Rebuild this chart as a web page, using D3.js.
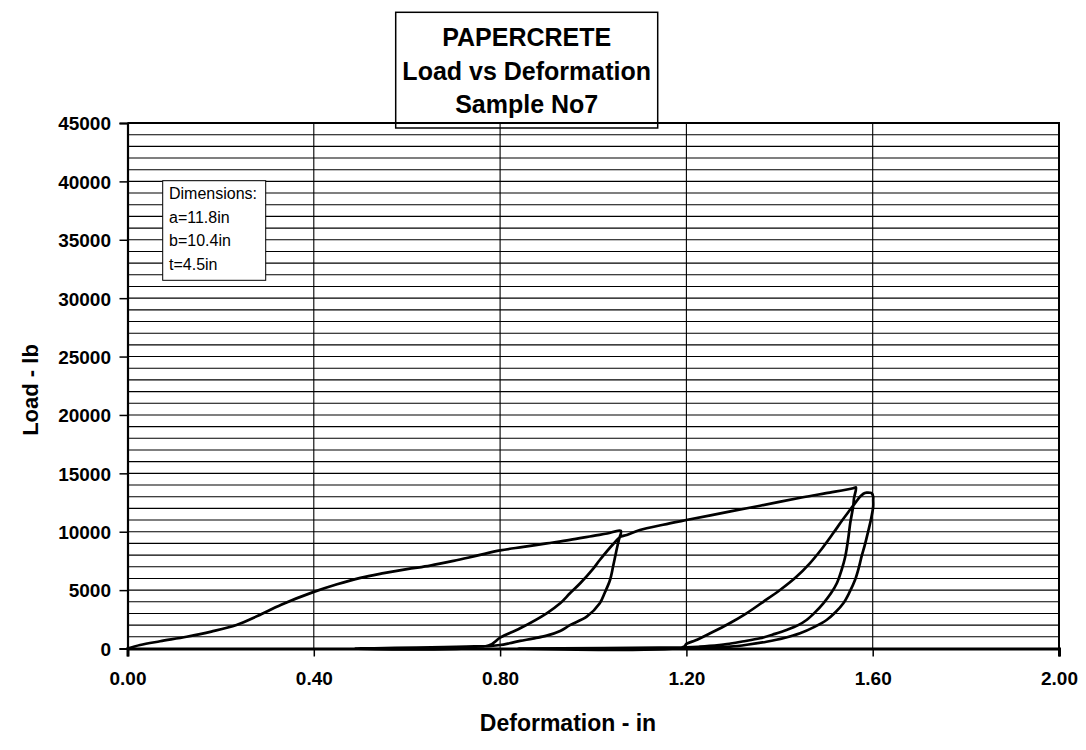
<!DOCTYPE html>
<html><head><meta charset="utf-8">
<script src="https://cdn.jsdelivr.net/npm/d3@7"></script>
<style>body{margin:0;background:#fff}svg{display:block}text{font-family:"Liberation Sans",Arial,sans-serif}</style>
</head><body>
<svg id="c" width="1086" height="750"></svg>
<script>
// ---- data: [deformation (in), load (lb)] ----
const load1 = [[0,0],[0.027,300],[0.07,620],[0.127,1010],[0.18,1450],[0.234,2012],[0.28,2800],[0.33,3750],[0.40,4850],[0.45,5500],[0.50,6050],[0.55,6450],[0.60,6800],[0.65,7100],[0.70,7500],[0.75,7950],[0.80,8400],[0.85,8700],[0.90,9000],[0.95,9300],[1.00,9650],[1.03,9850],[1.059,10080]];
const unload1 = [[1.059,10080],[1.055,9300],[1.050,8435],[1.043,7100],[1.036,5866],[1.025,4800],[1.014,3870],[0.986,2723],[0.95,2000],[0.929,1500],[0.90,1100],[0.87,850],[0.843,650],[0.82,450],[0.80,300],[0.78,220],[0.49,0],[0.775,250]];
const reload1 = [[0.775,250],[0.80,925],[0.843,1730],[0.90,3014],[0.929,3870],[0.95,4727],[0.972,5583],[1.0,6843],[1.014,7578],[1.043,8948],[1.059,9575],[1.072,9719],[1.10,10147],[1.15,10600],[1.20,11003],[1.30,11780],[1.358,12228],[1.45,12950],[1.50,13300],[1.558,13718],[1.564,13800]];
const unload2 = [[1.564,13800],[1.560,12900],[1.558,12142],[1.552,10800],[1.548,9575],[1.541,7861],[1.533,6700],[1.523,5583],[1.510,4700],[1.494,3870],[1.475,3050],[1.458,2440],[1.44,2000],[1.415,1584],[1.39,1250],[1.358,873],[1.32,600],[1.287,385],[1.25,220],[1.229,154],[1.20,100],[0.84,0],[1.195,150]];
const reload2 = [[1.195,150],[1.20,400],[1.22,700],[1.251,1302],[1.29,2100],[1.329,3014],[1.365,4000],[1.401,5009],[1.435,6100],[1.465,7295],[1.49,8500],[1.515,9863],[1.535,11000],[1.551,11860],[1.565,12600],[1.573,13000],[1.580,13250],[1.587,13342],[1.594,13340],[1.598,13290],[1.601,13000],[1.601,12716]];
const unload3 = [[1.601,12716],[1.601,12142],[1.596,11000],[1.591,10147],[1.584,9000],[1.576,7861],[1.570,6900],[1.562,5866],[1.550,4800],[1.537,3870],[1.52,3100],[1.501,2440],[1.475,1850],[1.444,1302],[1.41,900],[1.372,582],[1.33,320],[1.294,154],[1.26,80],[1.23,40]];

const xTicks = [0,0.4,0.8,1.2,1.6,2.0];
const yTicks = [0,5000,10000,15000,20000,25000,30000,35000,40000,45000];
const yGrid = d3.range(1000,45001,1000);
const titleLines = ["PAPERCRETE","Load vs Deformation","Sample No7"];
const noteLines = ["Dimensions:","a=11.8in","b=10.4in","t=4.5in"];
const xTitle = "Deformation - in", yTitle = "Load - lb";

// ---- drawing ----
const svg = d3.select("#c");
const L = 127.5, R = 1059, T = 123, B = 648.5;
const x = d3.scaleLinear().domain([0,2]).range([L,R]);
const y = d3.scaleLinear().domain([0,45000]).range([B,T]);

// horizontal grid
svg.append("g").selectAll("line").data(yGrid).join("line")
  .attr("x1",L).attr("x2",R).attr("y1",d=>y(d)).attr("y2",d=>y(d))
  .attr("stroke","#000").attr("stroke-width",1.1);
// vertical grid
svg.append("g").selectAll("line").data(xTicks.slice(1,-1)).join("line")
  .attr("y1",T).attr("y2",B).attr("x1",d=>x(d)).attr("x2",d=>x(d))
  .attr("stroke","#000").attr("stroke-width",1.1);
// border top/right
svg.append("path").attr("d",`M${L},${T}H${R}V${B}`).attr("fill","none").attr("stroke","#000").attr("stroke-width",2);

// axes
const yAxis = d3.axisLeft(y).tickValues(yTicks).tickSize(8).tickFormat(d3.format("d"));
const gy = svg.append("g").attr("transform",`translate(${L},0)`).call(yAxis);
gy.select(".domain").attr("stroke","#000").attr("stroke-width",2.2);
gy.selectAll(".tick line").attr("stroke","#000").attr("stroke-width",1.5);
gy.selectAll(".tick text").attr("x",-16.5).attr("dy","0.36em").attr("font-size",19).attr("font-weight","bold").attr("fill","#000").style("font-family",'"Liberation Sans",Arial,sans-serif');

const xAxis = d3.axisBottom(x).tickValues(xTicks).tickSize(8).tickFormat(d3.format(".2f"));
const gx = svg.append("g").attr("transform",`translate(0,${B})`).call(xAxis);
gx.select(".domain").attr("stroke","#000").attr("stroke-width",3);
gx.selectAll(".tick line").attr("stroke","#000").attr("stroke-width",1.5);
gx.selectAll(".tick text").attr("y",30).attr("dy","0.36em").attr("font-size",19).attr("font-weight","bold").attr("fill","#000").style("font-family",'"Liberation Sans",Arial,sans-serif');

// curve
const pts = [].concat(load1, unload1.slice(1), reload1.slice(1), unload2.slice(1), reload2.slice(1), unload3.slice(1));
svg.append("path").datum(pts)
  .attr("d", d3.line().x(d=>x(d[0])).y(d=>y(d[1])).curve(d3.curveCatmullRom.alpha(0.5)))
  .attr("fill","none").attr("stroke","#000").attr("stroke-width",2.7)
  .attr("stroke-linejoin","round").attr("stroke-linecap","round");

// axis titles
svg.append("text").attr("x",568).attr("y",731).attr("text-anchor","middle")
  .attr("font-size",23).attr("font-weight","bold").text(xTitle);
svg.append("text").attr("transform","translate(38,390) rotate(-90)").attr("text-anchor","middle")
  .attr("font-size",22).attr("font-weight","bold").text(yTitle);

// title box
svg.append("rect").attr("x",395.7).attr("y",12.3).attr("width",262).attr("height",115.7)
  .attr("fill","none").attr("stroke","#000").attr("stroke-width",1.5);
svg.append("g").selectAll("text").data(titleLines).join("text")
  .attr("x",526.7).attr("y",(d,i)=>46+i*33.7).attr("text-anchor","middle")
  .attr("font-size",25).attr("font-weight","bold").text(d=>d);

// note box
svg.append("rect").attr("x",162.7).attr("y",180.7).attr("width",103).attr("height",99.6)
  .attr("fill","#fff").attr("stroke","#000").attr("stroke-width",1);
svg.append("g").selectAll("text").data(noteLines).join("text")
  .attr("x",169).attr("y",(d,i)=>199.3+i*23.4)
  .attr("font-size",16).text(d=>d);
</script>
</body></html>
